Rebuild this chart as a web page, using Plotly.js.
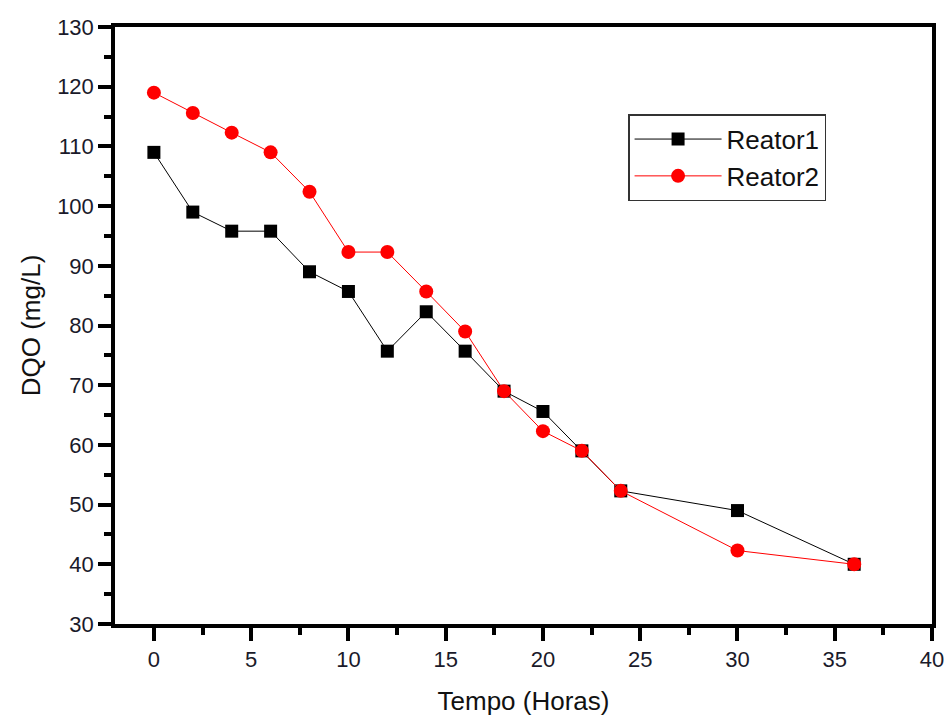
<!DOCTYPE html>
<html>
<head>
<meta charset="utf-8">
<script src="https://cdn.plot.ly/plotly-3.0.1.min.js"></script>
<style>html,body{margin:0;padding:0;background:#fff;}#chart{width:945px;height:716px;}</style>
</head>
<body>
<div id="chart"></div>
<script>
const tempo = [0, 2, 4, 6, 8, 10, 12, 14, 16, 18, 20, 22, 24, 30, 36];
const reator1 = [109, 99, 95.8, 95.8, 89, 85.7, 75.7, 82.3, 75.7, 69, 65.6, 59, 52.3, 49, 40];
const reator2 = [119, 115.6, 112.3, 109, 102.4, 92.3, 92.3, 85.7, 79, 69, 62.3, 59, 52.3, 42.3, 40];
const xTitle = 'Tempo (Horas)';
const yTitle = 'DQO (mg/L)';

const font = 'Liberation Sans, Arial, sans-serif';
const data = [
  {x: tempo, y: reator1, name: 'Reator1', mode: 'lines+markers', type: 'scatter',
   line: {color: '#000000', width: 1},
   marker: {symbol: 'square', size: 13, color: '#000000'}},
  {x: tempo, y: reator2, name: 'Reator2', mode: 'lines+markers', type: 'scatter',
   line: {color: '#ff0000', width: 1},
   marker: {symbol: 'circle', size: 14, color: '#ff0000'}}
];
const axisCommon = {
  showline: true, linecolor: '#000', linewidth: 3.5, mirror: true,
  ticks: 'outside', ticklen: 13, tickwidth: 3.5, tickcolor: '#000',
  showgrid: false, zeroline: false,
  tickfont: {family: font, size: 22, color: '#1a1a2a'}
};
const layout = {
  width: 945, height: 716,
  margin: {l: 115, r: 13, t: 27, b: 92},
  paper_bgcolor: '#fff', plot_bgcolor: '#fff',
  showlegend: true,
  legend: {x: 0.628, y: 0.854, xanchor: 'left', yanchor: 'top',
    bordercolor: '#333', borderwidth: 1.5, bgcolor: '#fff', itemwidth: 87,
    entrywidth: 220, entrywidthmode: 'pixels',
    font: {family: font, size: 26, color: '#111'}},
  xaxis: Object.assign({}, axisCommon, {
    range: [-2, 40], tick0: 0, dtick: 5,
    minor: {ticks: 'outside', ticklen: 7, tickwidth: 3.5, tickcolor: '#000', dtick: 2.5, tick0: 0},
    title: {text: xTitle, font: {family: font, size: 26, color: '#111'}, standoff: 22}
  }),
  yaxis: Object.assign({}, axisCommon, {
    range: [30, 130], tick0: 30, dtick: 10,
    minor: {ticks: 'outside', ticklen: 7, tickwidth: 3.5, tickcolor: '#000', dtick: 5, tick0: 30},
    title: {text: yTitle, font: {family: font, size: 26, color: '#111'}, standoff: 10}
  })
};
Plotly.newPlot('chart', data, layout, {displayModeBar: false});
</script>
</body>
</html>
